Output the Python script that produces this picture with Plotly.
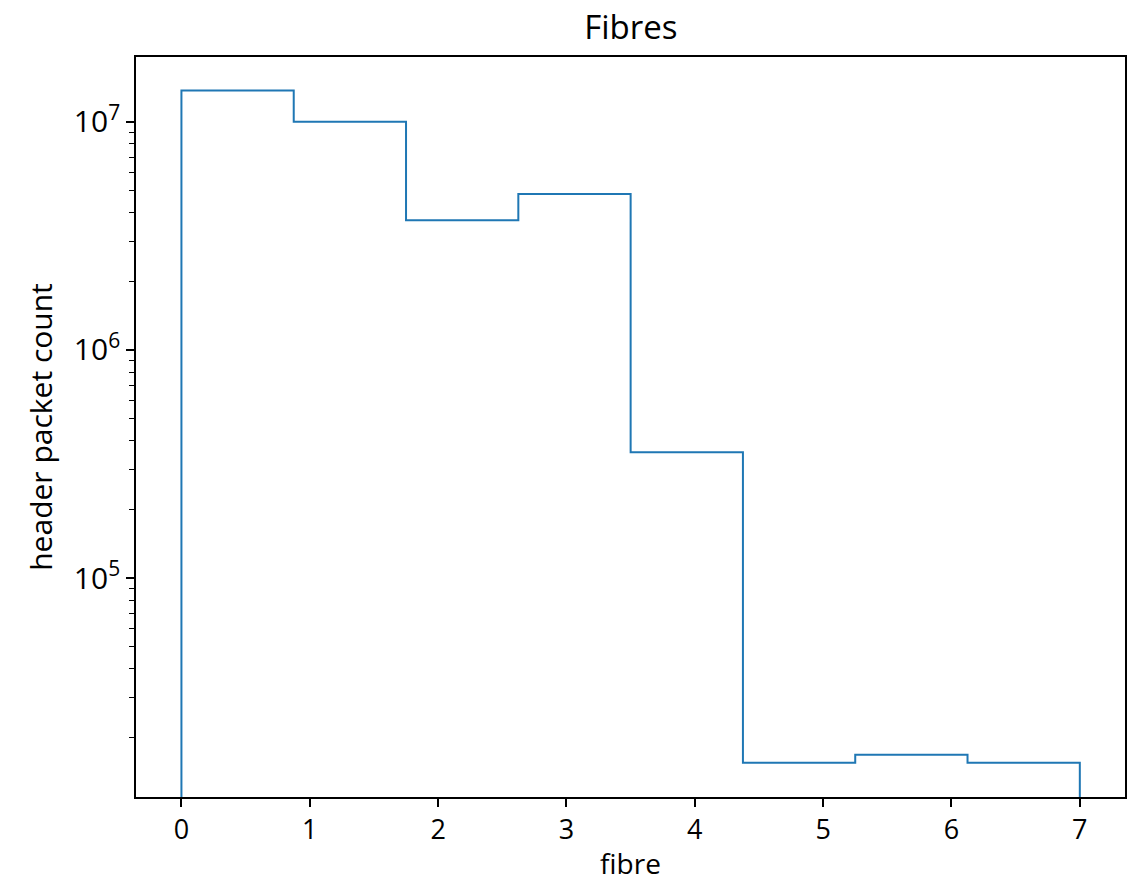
import numpy as np
import plotly.graph_objects as go

# Data: histogram of header packets per fibre (8 bins over 0..7)
bin_edges = [0.0, 0.875, 1.75, 2.625, 3.5, 4.375, 5.25, 6.125, 7.0]
counts = [1.37e7, 1.0e7, 3.7e6, 4.82e6, 3.56e5, 1.55e4, 1.68e4, 1.55e4]
x_ticks = [0, 1, 2, 3, 4, 5, 6, 7]
y_ticks = [1e5, 1e6, 1e7]
y_ticktext = ["10<sup>5</sup>", "10<sup>6</sup>", "10<sup>7</sup>"]

# Build the step outline (matplotlib histtype='step')
floor = 1.0
xs = [bin_edges[0]]
ys = [floor]
for i, c in enumerate(counts):
    xs += [bin_edges[i], bin_edges[i + 1]]
    ys += [c, c]
xs.append(bin_edges[-1])
ys.append(floor)

fig = go.Figure()
fig.add_trace(go.Scatter(x=xs, y=ys, mode="lines",
                         line=dict(color="#1f77b4", width=2),
                         showlegend=False, hoverinfo="skip"))

font = "Open Sans"
fig.update_layout(
    width=1135, height=884,
    paper_bgcolor="white", plot_bgcolor="white",
    margin=dict(l=136, r=8, t=57, b=87),
    title=dict(text="Fibres", x=0.5558, xanchor="center", y=0.969, yanchor="middle",
               font=dict(family=font, size=33, color="black")),
    font=dict(family=font, color="black"),
)
fig.update_xaxes(
    range=[-0.354, 7.352], tickvals=x_ticks, ticktext=[str(v) for v in x_ticks],
    showline=True, mirror=True, linecolor="black", linewidth=1.6,
    ticks="outside", ticklen=8, tickwidth=1.6, tickcolor="black",
    showgrid=False, zeroline=False,
    tickfont=dict(family=font, size=27, color="black"),
    title=dict(text="fibre", font=dict(family=font, size=28, color="black"), standoff=8),
)
fig.update_yaxes(
    type="log", range=[4.04, 7.284], tickvals=y_ticks, ticktext=y_ticktext,
    showline=True, mirror=True, linecolor="black", linewidth=1.6,
    ticks="outside", ticklen=8, tickwidth=1.6, tickcolor="black",
    minor=dict(ticks="outside", ticklen=5, tickwidth=1.2, tickcolor="black", dtick="D1", showgrid=False),
    showgrid=False, zeroline=False,
    tickfont=dict(family=font, size=30, color="black"),
    title=dict(text="header packet count", font=dict(family=font, size=30, color="black"), standoff=12),
)

fig.write_html("out.html")
